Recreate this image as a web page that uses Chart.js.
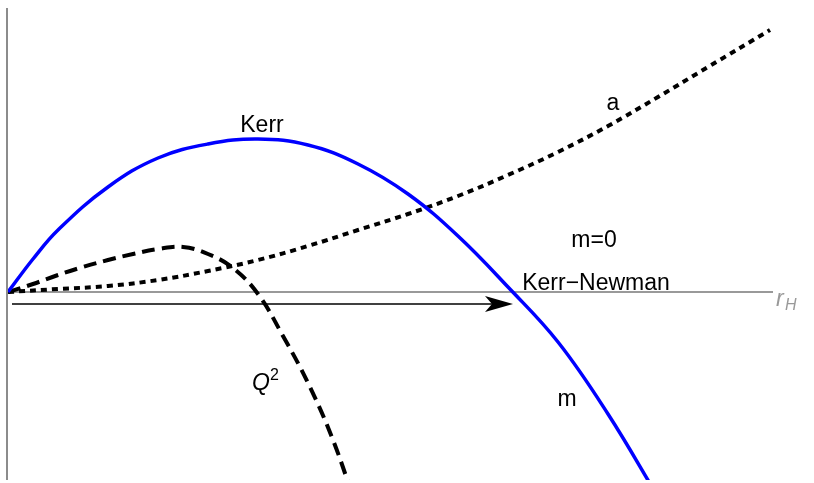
<!DOCTYPE html>
<html>
<head>
<meta charset="utf-8">
<script src="https://cdn.jsdelivr.net/npm/chart.js@4/dist/chart.umd.min.js"></script>
<style>
  html, body { margin: 0; padding: 0; background: #fff; }
</style>
</head>
<body>
<canvas id="plot" width="814" height="483"></canvas>
<script>
// horizon radius r_H (abscissa) and curve values
const kerrR = [0, 0.25, 0.5, 1.0, 1.5, 2.0, 2.5, 3.0, 3.5, 4.0, 4.5, 5.0, 5.5, 6.0, 6.5];
const kerrM = [0, 0.33, 0.62, 1.05, 1.34, 1.48, 1.53, 1.47, 1.28, 0.98, 0.56, 0.05, -0.50, -1.22, -2.05];

const chargeR = [0, 0.25, 0.5, 0.75, 1.0, 1.25, 1.5, 1.75, 2.0, 2.25, 2.5, 2.75, 3.0, 3.25, 3.5];
const chargeQ2 = [0, 0.08, 0.17, 0.25, 0.32, 0.38, 0.43, 0.45, 0.38, 0.24, -0.02, -0.44, -0.91, -1.48, -2.20];

const spinR = [0, 0.5, 1.0, 1.5, 2.0, 2.5, 3.0, 3.5, 4.0, 4.5, 5.0, 5.5, 6.0, 6.5, 7.0, 7.62];
const spinA = [0, 0.03, 0.06, 0.12, 0.21, 0.32, 0.46, 0.62, 0.78, 0.96, 1.17, 1.40, 1.66, 1.95, 2.25, 2.62];

// arrow along the r_H axis: start and end r, height
const arrowR = [0.04, 5.05];
const arrowY = -0.12;

const curveLabels = [
    { text: 'Kerr', r: 2.54, v: 1.66 },
    { text: 'a', r: 6.05, v: 1.88 },
    { text: 'm=0', r: 5.86, v: 0.51 },
    { text: 'Kerr\u2212Newman', r: 5.88, v: 0.08 },
    { text: 'm', r: 5.59, v: -1.08 }
];

const toPoints = (xs, ys) => xs.map((x, i) => ({ x: x, y: ys[i] }));

const FONT = '"Liberation Sans", Arial, sans-serif';

/**
 * Axes, arrow and text drawn around the curves
 */
const decorPlugin = {
    id: 'decor',
    beforeDatasetsDraw(chart) {
        const ctx = chart.ctx;
        const xs = chart.scales.x;
        const ys = chart.scales.y;
        const area = chart.chartArea;
        ctx.save();
        ctx.strokeStyle = '#8c8c8c';
        ctx.lineWidth = 2;
        ctx.beginPath();
        ctx.moveTo(xs.getPixelForValue(0) - 1, area.top);
        ctx.lineTo(xs.getPixelForValue(0) - 1, area.bottom);
        ctx.stroke();
        ctx.strokeStyle = '#999999';
        ctx.beginPath();
        ctx.moveTo(area.left, ys.getPixelForValue(0));
        ctx.lineTo(area.right, ys.getPixelForValue(0));
        ctx.stroke();
        ctx.restore();
    },
    afterDatasetsDraw(chart) {
        const ctx = chart.ctx;
        const xs = chart.scales.x;
        const ys = chart.scales.y;
        const area = chart.chartArea;
        ctx.save();

        // arrow
        const x0 = xs.getPixelForValue(arrowR[0]);
        const x1 = xs.getPixelForValue(arrowR[1]);
        const ay = ys.getPixelForValue(arrowY);
        ctx.strokeStyle = '#000';
        ctx.lineWidth = 1.5;
        ctx.beginPath();
        ctx.moveTo(x0, ay);
        ctx.lineTo(x1 - 20, ay);
        ctx.stroke();
        ctx.fillStyle = '#000';
        ctx.beginPath();
        ctx.moveTo(x1, ay);
        ctx.lineTo(x1 - 28, ay - 8);
        ctx.lineTo(x1 - 21, ay);
        ctx.lineTo(x1 - 28, ay + 8);
        ctx.closePath();
        ctx.fill();

        // curve labels
        ctx.font = '23px ' + FONT;
        ctx.textAlign = 'center';
        ctx.textBaseline = 'middle';
        curveLabels.forEach(l => {
            ctx.fillText(l.text, xs.getPixelForValue(l.r), ys.getPixelForValue(l.v));
        });

        // Q^2
        const qx = xs.getPixelForValue(2.6);
        const qy = ys.getPixelForValue(-0.92);
        ctx.font = 'italic 23px ' + FONT;
        ctx.textAlign = 'right';
        ctx.fillText('Q', qx + 2, qy);
        ctx.font = '16px ' + FONT;
        ctx.textAlign = 'left';
        ctx.fillText('2', qx + 2, qy - 8);

        // axis label r_H
        const ry = ys.getPixelForValue(0) + 8;
        ctx.fillStyle = '#999999';
        ctx.font = 'italic 23px ' + FONT;
        ctx.textAlign = 'left';
        ctx.fillText('r', area.right + 3, ry);
        ctx.font = 'italic 16px ' + FONT;
        ctx.fillText('H', area.right + 12, ry + 6);
        ctx.restore();
    }
};

new Chart(document.getElementById('plot').getContext('2d'), {
    type: 'line',
    data: {
        datasets: [
            {
                label: 'm',
                data: toPoints(kerrR, kerrM),
                borderColor: '#0000ff',
                borderWidth: 3.5,
                pointRadius: 0,
                tension: 0.4,
                fill: false
            },
            {
                label: 'Q2',
                data: toPoints(chargeR, chargeQ2),
                borderColor: '#000000',
                borderWidth: 4,
                borderDash: [13, 7],
                pointRadius: 0,
                tension: 0.4,
                fill: false
            },
            {
                label: 'a',
                data: toPoints(spinR, spinA),
                borderColor: '#000000',
                borderWidth: 4,
                borderDash: [6, 5],
                pointRadius: 0,
                tension: 0.4,
                fill: false
            }
        ]
    },
    options: {
        responsive: false,
        animation: false,
        layout: { padding: { left: 8, right: 41, top: 8, bottom: 3 } },
        scales: {
            x: { type: 'linear', min: 0, max: 7.65, display: false },
            y: { type: 'linear', min: -1.88, max: 2.84, display: false }
        },
        plugins: {
            legend: { display: false },
            tooltip: { enabled: false }
        }
    },
    plugins: [decorPlugin]
});
</script>
</body>
</html>
